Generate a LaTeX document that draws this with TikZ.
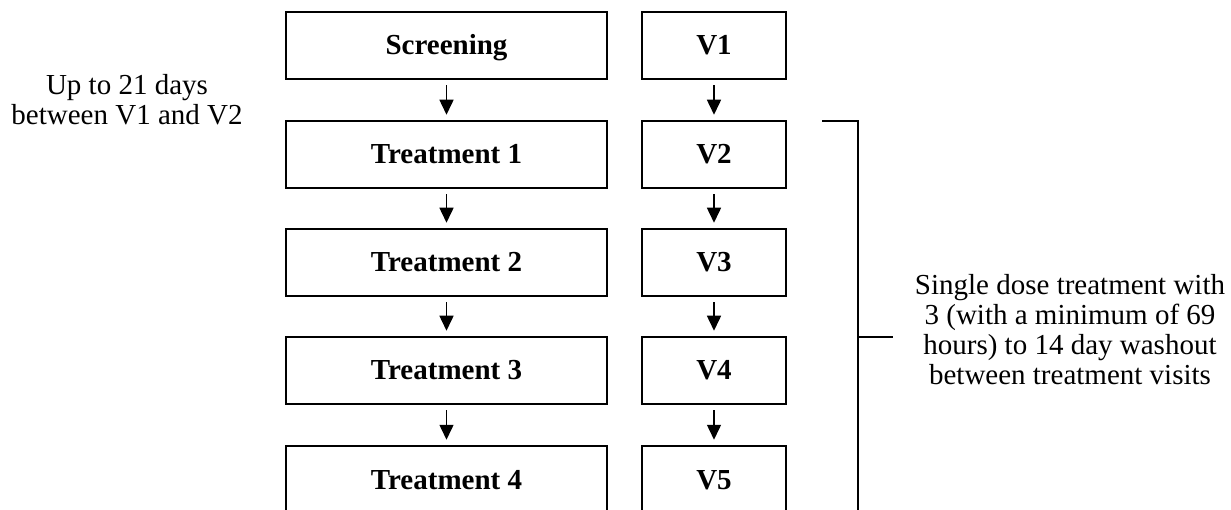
\documentclass[tikz,border=0pt]{standalone}
\usepackage{fontspec}
\setmainfont{Liberation Serif}
\usetikzlibrary{arrows.meta}
\begin{document}
\begin{tikzpicture}[x=1pt,y=-1pt,
  every node/.style={font=\fontsize{29}{30}\selectfont},
  lbox/.style={draw, line width=2.5pt, minimum width=321pt, minimum height=67pt, inner sep=0pt, text height=25pt, text depth=6pt, font=\fontsize{29}{30}\selectfont\bfseries},
  vbox/.style={draw, line width=2.5pt, minimum width=144pt, minimum height=67pt, inner sep=0pt, text height=25pt, text depth=6pt, font=\fontsize{29}{30}\selectfont\bfseries},
  arr/.style={line width=1.5pt, -{Triangle[width=14pt,length=15pt]}, shorten <=5pt, shorten >=5pt},
  brk/.style={line width=2.5pt},
  note/.style={align=center, inner sep=0pt}
]
\clip (0,0) rectangle (1231,510);
\fill[white] (0,0) rectangle (1231,510);
% left column
\node[lbox] (s0) at (446.5,45.5) {Screening};
\node[lbox] (s1) at (446.5,154.5) {Treatment 1};
\node[lbox] (s2) at (446.5,262.5) {Treatment 2};
\node[lbox] (s3) at (446.5,370.5) {Treatment 3};
\node[lbox] (s4) at (446.5,479.5) {Treatment 4};
% right column
\node[vbox] (v0) at (714,45.5) {V1};
\node[vbox] (v1) at (714,154.5) {V2};
\node[vbox] (v2) at (714,262.5) {V3};
\node[vbox] (v3) at (714,370.5) {V4};
\node[vbox] (v4) at (714,479.5) {V5};
% arrows
\draw[arr] (s0) -- (s1);
\draw[arr] (s1) -- (s2);
\draw[arr] (s2) -- (s3);
\draw[arr] (s3) -- (s4);
\draw[arr] (v0) -- (v1);
\draw[arr] (v1) -- (v2);
\draw[arr] (v2) -- (v3);
\draw[arr] (v3) -- (v4);
% notes
\node[note] (n1) at (127,100) {Up to 21 days\\between V1 and V2};
\node[note] (n2) at (1070,330) {Single dose treatment with\\3 (with a minimum of 69\\hours) to 14 day washout\\between treatment visits};
% bracket
\coordinate (bt0) at (822,121);
\coordinate (bt1) at (858,121);
\coordinate (bb) at (858,530);
\coordinate (bm) at (858,337);
\coordinate (be) at (893,337);
\draw[brk] (bt0) -- (bt1) -- (bb);
\draw[brk] (bm) -- (be);
\end{tikzpicture}
\end{document}
